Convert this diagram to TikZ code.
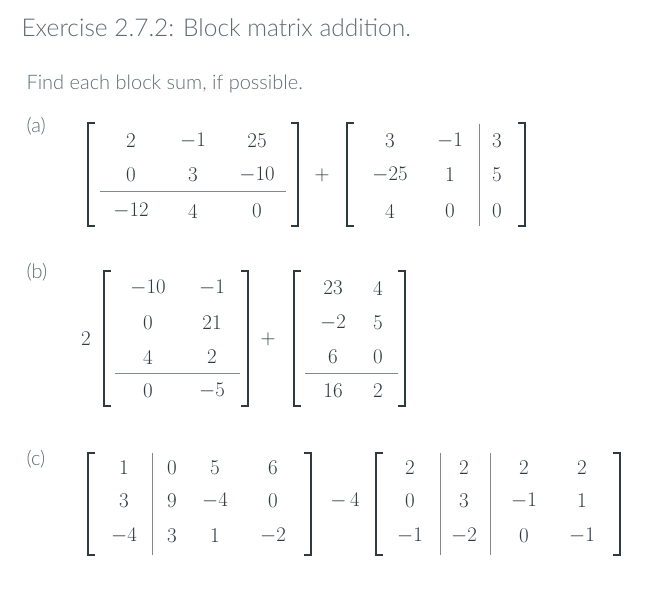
\documentclass[tikz,border=0pt]{standalone}
\usepackage{fontspec}
\newfontfamily\hdfont{Lato Light}
\definecolor{hd}{HTML}{5F6B73}
\definecolor{mt}{HTML}{2E3A42}
\begin{document}
\begin{tikzpicture}[x=1pt,y=-1pt,
  ent/.style={font=\fontsize{21}{21}\selectfont, text=mt, inner sep=0pt},
  brk/.style={draw=mt, line width=1.3pt},
  sep/.style={draw=mt!60, line width=0.6pt}]
\useasboundingbox (0,0) rectangle (656,601);
\newcommand{\lb}[3]{\draw[brk] (#1+7,#2) -- (#1,#2) -- (#1,#3) -- (#1+7,#3);}
\newcommand{\rb}[3]{\draw[brk] (#1-7,#2) -- (#1,#2) -- (#1,#3) -- (#1-7,#3);}
\node[anchor=west, text=hd, font=\hdfont\fontsize{24.5}{24.5}\selectfont] (title) at (18,28) {Exercise 2.7.2: Block matrix addition.};
\node[anchor=west, text=hd, font=\hdfont\fontsize{20}{20}\selectfont] (find) at (23,84) {Find each block sum, if possible.};
\node[anchor=west, text=hd, font=\hdfont\fontsize{20}{20}\selectfont] (la) at (23,126) {(a)};
\node[anchor=west, text=hd, font=\hdfont\fontsize{20}{20}\selectfont] (lb) at (23,272) {(b)};
\node[anchor=west, text=hd, font=\hdfont\fontsize{20}{20}\selectfont] (lc) at (23,459) {(c)};
% (a)
\lb{88}{123}{226}\rb{298}{123}{226}
\foreach \v [count=\i] in {2,$-1$,25,0,3,$-10$,$-12$,4,0}{
  \pgfmathtruncatemacro\r{int((\i-1)/3)}\pgfmathtruncatemacro\c{mod(\i-1,3)}
  \pgfmathsetmacro\xx{{131,193,257}[\c]}\pgfmathsetmacro\yy{{141,175,211}[\r]}
  \node[ent] (a\i) at (\xx,\yy) {\v};}
\draw[sep] (100,191) -- (286,191);
\node[ent] (pa) at (322,175) {$+$};
\lb{347}{123}{226}\rb{525}{123}{226}
\foreach \v [count=\i] in {3,$-1$,3,$-25$,1,5,4,0,0}{
  \pgfmathtruncatemacro\r{int((\i-1)/3)}\pgfmathtruncatemacro\c{mod(\i-1,3)}
  \pgfmathsetmacro\xx{{390,450,497}[\c]}\pgfmathsetmacro\yy{{141,175,211}[\r]}
  \node[ent] (b\i) at (\xx,\yy) {\v};}
\draw[sep] (479,124) -- (479,226);
% (b)
\node[ent] (two) at (86,339) {2};
\lb{104}{271}{406}\rb{248}{271}{406}
\foreach \v [count=\i] in {$-10$,$-1$,0,21,4,2,0,$-5$}{
  \pgfmathtruncatemacro\r{int((\i-1)/2)}\pgfmathtruncatemacro\c{mod(\i-1,2)}
  \pgfmathsetmacro\xx{{148,212}[\c]}\pgfmathsetmacro\yy{{288,323,357,391}[\r]}
  \node[ent] (c\i) at (\xx,\yy) {\v};}
\draw[sep] (115,373) -- (240,373);
\node[ent] (pb) at (268,339) {$+$};
\lb{294}{271}{406}\rb{405}{271}{406}
\foreach \v [count=\i] in {23,4,$-2$,5,6,0,16,2}{
  \pgfmathtruncatemacro\r{int((\i-1)/2)}\pgfmathtruncatemacro\c{mod(\i-1,2)}
  \pgfmathsetmacro\xx{{333,378}[\c]}\pgfmathsetmacro\yy{{288,323,357,391}[\r]}
  \node[ent] (d\i) at (\xx,\yy) {\v};}
\draw[sep] (305,373) -- (398,373);
% (c)
\lb{88}{453}{555}\rb{311}{453}{555}
\foreach \v [count=\i] in {1,0,5,6,3,9,$-4$,0,$-4$,3,1,$-2$}{
  \pgfmathtruncatemacro\r{int((\i-1)/4)}\pgfmathtruncatemacro\c{mod(\i-1,4)}
  \pgfmathsetmacro\xx{{124,172,215,273}[\c]}\pgfmathsetmacro\yy{{468,501,536}[\r]}
  \node[ent] (e\i) at (\xx,\yy) {\v};}
\draw[sep] (152,453) -- (152,555);
\node[ent] (mc) at (345,501) {$-\,4$};
\lb{376}{453}{555}\rb{620}{453}{555}
\foreach \v [count=\i] in {2,2,2,2,0,3,$-1$,1,$-1$,$-2$,0,$-1$}{
  \pgfmathtruncatemacro\r{int((\i-1)/4)}\pgfmathtruncatemacro\c{mod(\i-1,4)}
  \pgfmathsetmacro\xx{{410,464,524,582}[\c]}\pgfmathsetmacro\yy{{468,501,536}[\r]}
  \node[ent] (f\i) at (\xx,\yy) {\v};}
\draw[sep] (440,453) -- (440,555);
\draw[sep] (490,453) -- (490,555);
\end{tikzpicture}
\end{document}
